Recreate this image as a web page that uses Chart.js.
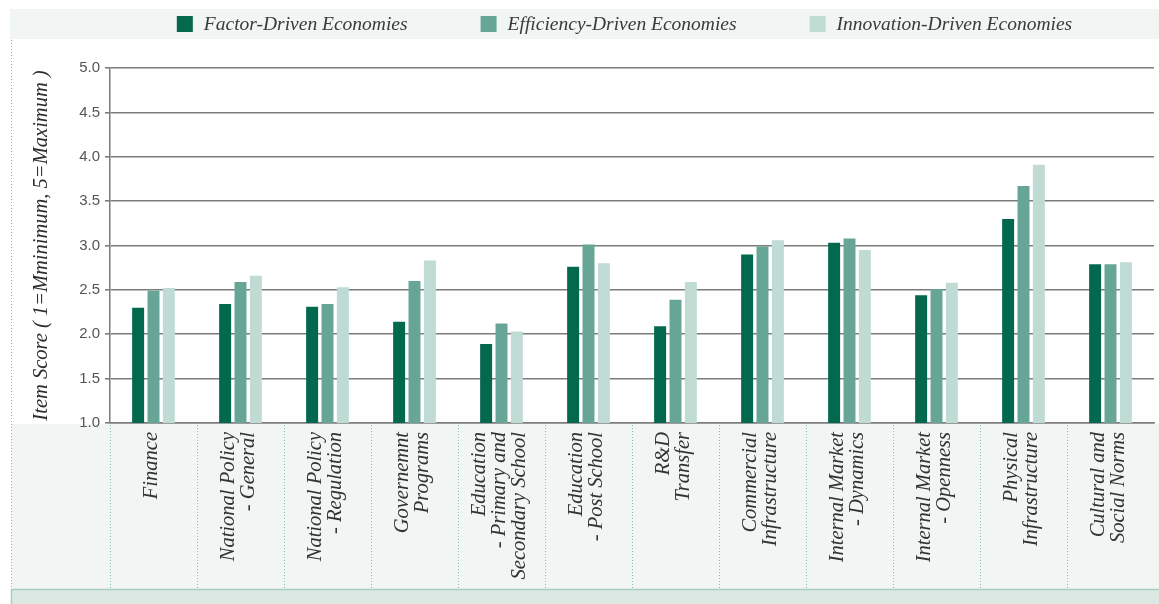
<!DOCTYPE html>
<html>
<head>
<meta charset="utf-8">
<title>Item Scores by Economy Type</title>
<script src="https://cdn.jsdelivr.net/npm/chart.js@4.4.1/dist/chart.umd.min.js"></script>
<style>
  html, body { margin: 0; padding: 0; background: #fff; }
  #wrap { width: 1159px; height: 604px; position: relative; }
</style>
</head>
<body>
<div id="wrap"><canvas id="barChart"></canvas></div>
<script>
/************************ DATA ************************** */
const categories = [
  ["Finance"],
  ["National Policy", "- General"],
  ["National Policy", "- Regulation"],
  ["Governemnt", "Programs"],
  ["Education", "- Primary and", "Secondary School"],
  ["Education", "- Post School"],
  ["R&D", "Transfer"],
  ["Commercial", "Infrastructure"],
  ["Internal Market", "- Dynamics"],
  ["Internal Market", "- Openness"],
  ["Physical", "Infrastructure"],
  ["Cultural and", "Social Norms"],
];

const factorDriven = [2.30, 2.34, 2.31, 2.14, 1.89, 2.76, 2.09, 2.90, 3.03, 2.44, 3.30, 2.79];
const efficiencyDriven = [2.49, 2.59, 2.34, 2.60, 2.12, 3.01, 2.39, 2.99, 3.08, 2.51, 3.67, 2.79];
const innovationDriven = [2.52, 2.66, 2.53, 2.83, 2.03, 2.80, 2.59, 3.06, 2.95, 2.58, 3.91, 2.81];

const seriesNames = [
  "Factor-Driven Economies",
  "Efficiency-Driven Economies",
  "Innovation-Driven Economies",
];
const seriesColors = ["#02694f", "#67a696", "#c0dbd4"];

const yRange = [1, 5];
const yStep = 0.5;
const yTitle = "Item Score ( 1=Mminimum, 5=Maximum )";

/************************ STYLE ************************** */
const serif = '"Liberation Serif", "DejaVu Serif", serif';
const gridGray = "#7c7c7c";
const bandFill = "#f1f5f3";
const dotColor = "#86c1af";

/************************ PLUGINS ************************** */
// panels behind the chart: legend strip, label strip, footer strip
const framePlugin = {
  id: "frame",
  beforeDraw(chart) {
    const { ctx, width, height, chartArea } = chart;
    ctx.save();
    ctx.fillStyle = bandFill;
    ctx.fillRect(10, 9, width - 10, 30);
    ctx.fillRect(11, chartArea.bottom + 1, width - 11, 589 - chartArea.bottom - 1);

    ctx.fillStyle = "#dce8e4";
    ctx.fillRect(11, 589, width - 11, height - 589);
    ctx.strokeStyle = "#a6cdc0";
    ctx.lineWidth = 1.5;
    ctx.beginPath();
    ctx.moveTo(11, 589.5);
    ctx.lineTo(width, 589.5);
    ctx.moveTo(11.5, 589);
    ctx.lineTo(11.5, height);
    ctx.stroke();

    // dotted left edge
    ctx.strokeStyle = dotColor;
    ctx.lineWidth = 1;
    ctx.setLineDash([1, 2]);
    ctx.beginPath();
    ctx.moveTo(11.5, 40);
    ctx.lineTo(11.5, 589);
    ctx.stroke();
    ctx.restore();
  },
  afterDraw(chart) {
    const { ctx, chartArea } = chart;
    const xs = chart.scales.x;
    ctx.save();

    // dotted separators between categories
    ctx.strokeStyle = dotColor;
    ctx.lineWidth = 1;
    ctx.setLineDash([1, 2]);
    ctx.beginPath();
    for (let i = 0; i < categories.length; i++) {
      const x = i === 0 ? chartArea.left : (xs.getPixelForValue(i - 1) + xs.getPixelForValue(i)) / 2;
      const px = Math.round(x) + 0.5;
      ctx.moveTo(px, chartArea.bottom + 2);
      ctx.lineTo(px, 589);
    }
    ctx.stroke();
    ctx.setLineDash([]);

    // rotated category labels, end of text against the axis
    ctx.font = "italic 20.5px " + serif;
    ctx.fillStyle = "#333";
    ctx.textAlign = "right";
    ctx.textBaseline = "middle";
    const lh = 20;
    categories.forEach((lines, i) => {
      const cx = xs.getPixelForValue(i);
      lines.forEach((line, j) => {
        const x = cx + (j - (lines.length - 1) / 2) * lh - 2;
        ctx.save();
        ctx.translate(x, chartArea.bottom + 9);
        ctx.rotate(-Math.PI / 2);
        ctx.fillText(line, 0, 0);
        ctx.restore();
      });
    });

    // legend row
    ctx.font = "italic 19.5px " + serif;
    ctx.textAlign = "left";
    const box = 16;
    const boxGap = 11;
    const itemGap = 73;
    const datasets = chart.data.datasets;
    const widths = datasets.map((d) => box + boxGap + ctx.measureText(d.label).width);
    const total = widths.reduce((a, b) => a + b, 0) + itemGap * (datasets.length - 1);
    let x = 624.5 - total / 2;
    datasets.forEach((d, i) => {
      ctx.fillStyle = d.backgroundColor;
      ctx.fillRect(x, 16, box, box);
      ctx.fillStyle = "#3a3a3a";
      ctx.fillText(d.label, x + box + boxGap, 25);
      x += widths[i] + itemGap;
    });
    ctx.restore();
  },
};

/************************ CHART ************************** */
const ctx = document.getElementById("barChart");

const config = {
  type: "bar",
  data: {
    labels: categories.map((c) => c.join(" ")),
    datasets: [
      { label: seriesNames[0], data: factorDriven, backgroundColor: seriesColors[0] },
      { label: seriesNames[1], data: efficiencyDriven, backgroundColor: seriesColors[1] },
      { label: seriesNames[2], data: innovationDriven, backgroundColor: seriesColors[2] },
    ],
  },
  options: {
    responsive: true,
    maintainAspectRatio: false,
    animation: false,
    layout: {
      padding: { top: 68, left: 10, right: 5, bottom: 0 },
    },
    datasets: {
      bar: {
        categoryPercentage: 0.53,
        barPercentage: 0.78,
        borderWidth: 0,
      },
    },
    scales: {
      x: {
        grid: { display: false },
        border: { display: true, color: gridGray, width: 1.5 },
        ticks: { display: false },
        afterFit(scale) {
          scale.height = 181;
        },
      },
      y: {
        min: yRange[0],
        max: yRange[1],
        ticks: {
          stepSize: yStep,
          padding: 5,
          color: "#555",
          font: { family: '"Liberation Sans", Arial, sans-serif', size: 15 },
          callback: (v) => Number(v).toFixed(1),
        },
        grid: {
          color: gridGray,
          lineWidth: 1.6,
          tickLength: 5,
          drawTicks: true,
        },
        border: { display: true, color: gridGray, width: 1.5 },
        title: {
          display: true,
          text: yTitle,
          color: "#2e2e2e",
          font: { family: serif, size: 20.5, style: "italic" },
          padding: { top: 19, bottom: 0 },
        },
        afterFit(scale) {
          scale.width = 100;
        },
      },
    },
    plugins: {
      legend: { display: false },
      tooltip: { enabled: false },
    },
  },
  plugins: [framePlugin],
};

const myBarChart = new Chart(ctx, config);
</script>
</body>
</html>
